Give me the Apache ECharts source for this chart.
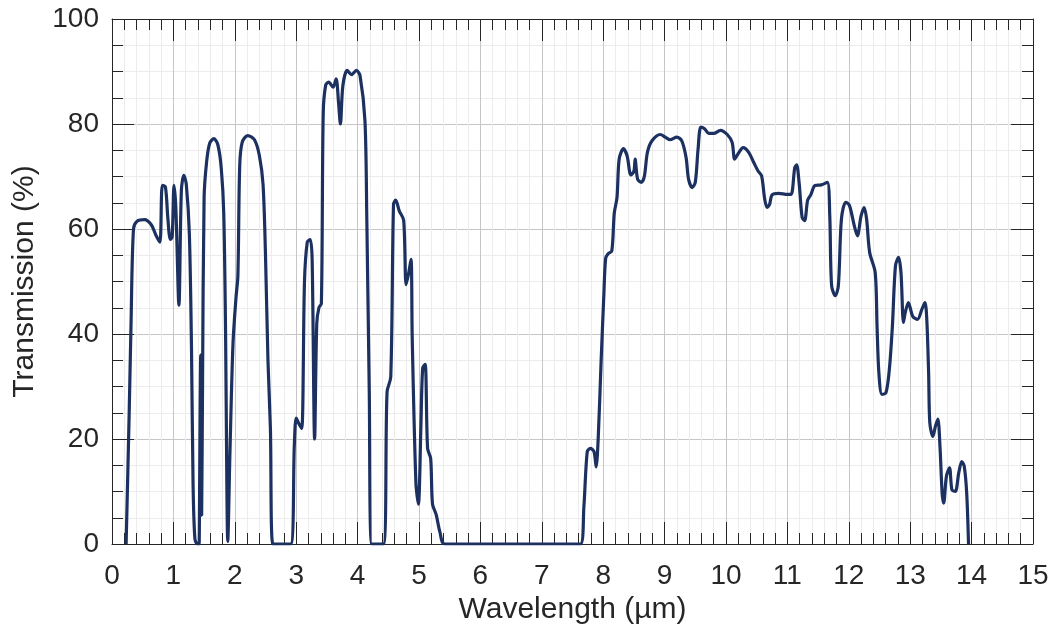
<!DOCTYPE html>
<html>
<head>
<meta charset="utf-8">
<script src="https://cdn.jsdelivr.net/npm/echarts@6/dist/echarts.min.js"></script>
<style>
html,body{margin:0;padding:0;background:#fff;}
#chart{width:1062px;height:633px;}
</style>
</head>
<body>
<div id="chart"></div>
<script>
// Wavelength (µm) and transmission (%)
const wavelength = [
  0.23, 0.28, 0.31, 0.35, 0.41, 0.53, 0.64, 0.72, 0.78, 0.82, 0.87, 0.91, 0.95, 0.98,
  1.01, 1.04, 1.09, 1.13, 1.17, 1.21, 1.26, 1.295, 1.32, 1.35, 1.39, 1.42, 1.43, 1.445,
  1.46, 1.475, 1.50, 1.54, 1.59, 1.66, 1.725, 1.78, 1.82, 1.85, 1.87, 1.885,
  1.92, 1.97, 2.02, 2.05, 2.08, 2.12, 2.21, 2.32, 2.40, 2.46, 2.50, 2.54, 2.58, 2.62,
  2.91, 2.97, 3.00, 3.04, 3.09, 3.135, 3.18, 3.23, 3.26, 3.30, 3.335, 3.37, 3.41,
  3.44, 3.48, 3.53, 3.60, 3.65, 3.69, 3.72, 3.76, 3.83, 3.90, 3.98, 4.04, 4.12,
  4.15, 4.19, 4.23, 4.42, 4.48, 4.54, 4.585, 4.62, 4.68, 4.75, 4.79, 4.83, 4.87,
  4.89, 4.95, 4.99, 5.03, 5.06, 5.10, 5.14, 5.19, 5.22, 5.28, 5.34, 5.42,
  7.63, 7.685, 7.74, 7.79, 7.85, 7.885, 7.92, 7.965, 8.01, 8.04, 8.08, 8.14, 8.18,
  8.225, 8.26, 8.33, 8.39, 8.45, 8.50, 8.52, 8.56, 8.62, 8.67, 8.72, 8.795, 8.93,
  9.01, 9.09, 9.20, 9.28, 9.35, 9.39, 9.45, 9.50, 9.545, 9.59, 9.65, 9.72, 9.80,
  9.91, 10.02, 10.10, 10.14, 10.19, 10.28, 10.37, 10.45, 10.52, 10.58, 10.63,
  10.67, 10.71, 10.75, 10.86, 11.00, 11.06, 11.12, 11.15, 11.19, 11.24, 11.28,
  11.33, 11.38, 11.45, 11.55, 11.65, 11.69, 11.72, 11.78, 11.83, 11.88, 11.95,
  12.01, 12.09, 12.14, 12.20, 12.25, 12.29, 12.34, 12.43, 12.46, 12.49, 12.54,
  12.605, 12.66, 12.71, 12.76, 12.81, 12.85, 12.89, 12.92, 12.97, 13.04, 13.12,
  13.19, 13.24, 13.27, 13.30, 13.32, 13.37, 13.41, 13.45, 13.485, 13.52, 13.545,
  13.59, 13.64, 13.68, 13.735, 13.79, 13.84, 13.88, 13.92, 13.95
];
const transmission = [
  0, 25, 42, 60, 61.5, 61.8, 60.8, 58.7, 57.5, 68.3, 68, 62, 58, 58.5,
  68.3, 64, 45.5, 67.4, 70.2, 68.5, 59, 37, 11.6, 1, 0, 0, 0, 36,
  5.5, 31, 66, 72.7, 76.3, 77.2, 76, 71.5, 63, 40, 12, 0.5,
  17, 38, 47, 51, 72, 76.5, 77.8, 77, 74, 68.5, 55, 35, 22, 0,
  0, 19, 24, 23, 22, 50, 57.5, 58, 54, 20, 42, 45, 45.8,
  82, 87.4, 88, 87, 88.6, 84, 80, 87.3, 90.2, 89.4, 90.2, 89.2, 80.6,
  62, 29, 0, 0, 29, 31.8, 64.7, 65.5, 63.4, 61.7, 49.4, 51.5, 54.2,
  39, 11.6, 7.6, 22, 33.5, 34.2, 18.2, 16.3, 7.6, 5.6, 2.3, 0,
  0, 7, 17.6, 18.2, 17.6, 14.7, 20.5, 34.5, 47.3, 54.4, 55.3, 55.8, 63,
  66, 73.3, 75.3, 73.9, 70.3, 71, 73.3, 69.5, 68.9, 70, 74.6, 76.8, 78,
  77.5, 77, 77.5, 76.8, 73.6, 69.5, 67.9, 68.9, 75.2, 79.4, 79.1, 78.2, 78.2,
  78.8, 78, 76.5, 73.3, 74.2, 75.5, 74.6, 72.7, 71.1, 70.1, 65.7,
  64.1, 64.7, 66.5, 66.8, 66.6, 66.6, 71.7, 72.2, 68.9, 62.2, 61.6,
  65.5, 66.5, 68.3, 68.4, 68.9, 62.5, 49.2, 47.3, 49.2, 61.9, 65.1,
  64.5, 60.6, 58.7, 62.5, 64.1, 61.9, 55.5, 51.7, 41.5, 32.6, 28.5,
  28.8, 33.2, 41.5, 53, 54.6, 51.7, 42.2, 44.1, 46, 43.4, 42.8,
  44.7, 46, 42.8, 32.6, 23, 20.5, 22.4, 23.8, 18.6, 9.7, 7.8,
  12.9, 14.5, 10.3, 10, 13.5, 15.7, 14.8, 9.7, 0
];
const xRange = [0, 15];
const yRange = [0, 100];
const xStep = 1;
const yStep = 20;
const xTitle = 'Wavelength (µm)';
const yTitle = 'Transmission (%)';

const seriesData = wavelength.map((w, i) => [w, transmission[i]]);

const txt = '#262626';
const font = '"Liberation Sans", Arial, sans-serif';

function axisCommon(extra) {
  return Object.assign({
    type: 'value',
    axisLine: { show: true, onZero: false, lineStyle: { color: txt, width: 1 } },
    axisTick: { show: true, inside: true, length: 22, lineStyle: { color: txt, width: 1 } },
    minorTick: { show: true, length: 11, lineStyle: { color: txt, width: 1 } }
  }, extra);
}

const chart = echarts.init(document.getElementById('chart'), null, { renderer: 'canvas' });
chart.setOption({
  animation: false,
  backgroundColor: '#ffffff',
  textStyle: { fontFamily: font },
  grid: { left: 112, right: 29, top: 19, bottom: 89, containLabel: false },
  xAxis: [
    axisCommon({
      position: 'bottom', min: xRange[0], max: xRange[1], interval: xStep,
      name: xTitle, nameLocation: 'middle', nameGap: 50,
      nameTextStyle: { fontSize: 30, color: txt, fontFamily: font },
      axisLabel: { show: true, fontSize: 28, color: txt, margin: 18, fontFamily: font },
      minorTick: { show: true, splitNumber: 5, length: 11, lineStyle: { color: txt } },
      splitLine: { show: true, lineStyle: { color: '#c6c6c6', width: 1 } },
      minorSplitLine: { show: true, lineStyle: { color: '#ececec', width: 1 } }
    }),
    axisCommon({
      position: 'top', min: xRange[0], max: xRange[1], interval: xStep,
      axisLabel: { show: false },
      minorTick: { show: true, splitNumber: 5, length: 11, lineStyle: { color: txt } },
      splitLine: { show: false }
    })
  ],
  yAxis: [
    axisCommon({
      position: 'left', min: yRange[0], max: yRange[1], interval: yStep,
      name: yTitle, nameLocation: 'middle', nameGap: 72, nameRotate: 90,
      nameTextStyle: { fontSize: 30, color: txt, fontFamily: font },
      axisLabel: { show: true, fontSize: 28, color: txt, margin: 13, fontFamily: font },
      minorTick: { show: true, splitNumber: 4, length: 11, lineStyle: { color: txt } },
      splitLine: { show: true, lineStyle: { color: '#c6c6c6', width: 1 } },
      minorSplitLine: { show: true, lineStyle: { color: '#ececec', width: 1 } }
    }),
    axisCommon({
      position: 'right', min: yRange[0], max: yRange[1], interval: yStep,
      axisLabel: { show: false },
      minorTick: { show: true, splitNumber: 4, length: 11, lineStyle: { color: txt } },
      splitLine: { show: false }
    })
  ],
  series: [{
    type: 'line',
    xAxisIndex: 0,
    yAxisIndex: 0,
    data: seriesData,
    showSymbol: false,
    smooth: 0.3,
    clip: true,
    lineStyle: { color: '#1d3161', width: 3.2 },
    z: 3
  }]
});
</script>
</body>
</html>
